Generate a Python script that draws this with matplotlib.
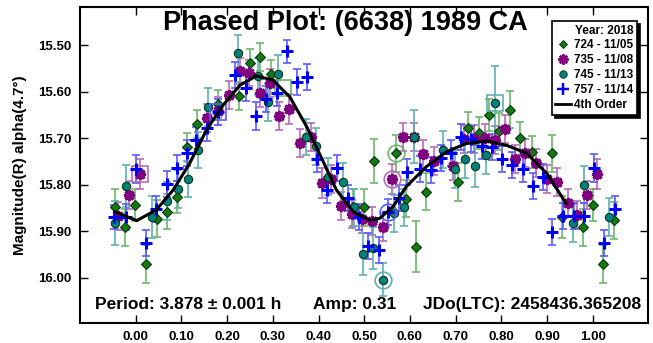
import matplotlib
matplotlib.use("Agg")
import matplotlib.pyplot as plt
from matplotlib.lines import Line2D

plt.rcParams["font.family"] = ["Liberation Sans", "DejaVu Sans"]
plt.rcParams["font.weight"] = "bold"

TITLE = "Phased Plot: (6638) 1989 CA"
YLABEL = "Magnitude(R) alpha(4.7\u00b0)"
LEGEND_TITLE = "Year: 2018"
SERIES_LABELS = ["724 - 11/05", "735 - 11/08", "745 - 11/13", "757 - 11/14"]
FIT_LABEL = "4th Order"
PERIOD_TEXT = "Period: 3.878 \u00b1 0.001 h"
AMP_TEXT = "Amp: 0.31"
JD_TEXT = "JDo(LTC): 2458436.365208"

X_TICKS = [0.0, 0.1, 0.2, 0.3, 0.4, 0.5, 0.6, 0.7, 0.8, 0.9, 1.0]
Y_TICKS = [15.5, 15.6, 15.7, 15.8, 15.9, 16.0]

# 724 - 11/05
green_phase = [-0.046, -0.024, -0.002, 0.022, 0.046, 0.068, 0.090, 0.112, 0.133, 0.179,
               0.225, 0.249, 0.271, 0.295, 0.475, 0.499, 0.521, 0.569, 0.591, 0.613,
               0.635, 0.705, 0.726, 0.751, 0.772, 0.796, 0.818, 0.840, 0.867, 0.912,
               0.932, 0.978, 1.000, 1.022, 1.046]
green_mag = [15.848, 15.891, 15.843, 15.970, 15.873, 15.858, 15.826, 15.719, 15.670, 15.627,
             15.609, 15.539, 15.526, 15.562, 15.848, 15.848, 15.749, 15.732, 15.830, 15.933,
             15.815, 15.794, 15.678, 15.689, 15.650, 15.685, 15.639, 15.700, 15.730, 15.732,
             15.869, 15.891, 15.843, 15.970, 15.876]
green_err = [0.038, 0.040, 0.035, 0.040, 0.040, 0.038, 0.035, 0.030, 0.030, 0.030,
             0.030, 0.030, 0.030, 0.030, 0.040, 0.040, 0.048, 0.040, 0.040, 0.055,
             0.040, 0.040, 0.035, 0.035, 0.035, 0.040, 0.040, 0.035, 0.035, 0.040,
             0.045, 0.040, 0.035, 0.040, 0.040]

# 735 - 11/08
purple_phase = [-0.039, -0.015, 0.009, 0.155, 0.179, 0.204, 0.228, 0.247, 0.271, 0.293,
                0.313, 0.335, 0.359, 0.383, 0.407, 0.427, 0.449, 0.473, 0.495, 0.516,
                0.540, 0.560, 0.584, 0.608, 0.628, 0.652, 0.694, 0.718, 0.740, 0.764,
                0.786, 0.807, 0.829, 0.851, 0.875, 0.899, 0.921, 0.945, 0.965, 0.987,
                1.009]
purple_mag = [15.867, 15.822, 15.777, 15.657, 15.642, 15.607, 15.556, 15.560, 15.603, 15.582,
              15.652, 15.637, 15.710, 15.697, 15.796, 15.788, 15.845, 15.863, 15.873, 15.878,
              15.891, 15.788, 15.697, 15.697, 15.734, 15.749, 15.760, 15.702, 15.702, 15.700,
              15.704, 15.680, 15.745, 15.732, 15.753, 15.788, 15.794, 15.839, 15.865, 15.822,
              15.777]
purple_err = [0.030, 0.030, 0.032, 0.030, 0.030, 0.030, 0.028, 0.028, 0.030, 0.030,
              0.030, 0.032, 0.030, 0.030, 0.032, 0.030, 0.030, 0.030, 0.030, 0.030,
              0.030, 0.032, 0.030, 0.030, 0.030, 0.030, 0.030, 0.030, 0.030, 0.030,
              0.030, 0.030, 0.030, 0.030, 0.030, 0.030, 0.030, 0.030, 0.030, 0.030,
              0.032]

# 745 - 11/13
teal_phase = [-0.046, -0.022, 0.035, 0.068, 0.092, 0.114, 0.136, 0.158, 0.223, 0.267,
              0.289, 0.311, 0.372, 0.394, 0.420, 0.453, 0.477, 0.497, 0.519, 0.540,
              0.565, 0.586, 0.608, 0.672, 0.698, 0.720, 0.742, 0.766, 0.786, 0.956,
              0.980, 1.035]
teal_mag = [15.882, 15.803, 15.869, 15.835, 15.809, 15.788, 15.725, 15.633, 15.517, 15.567,
            15.622, 15.562, 15.697, 15.717, 15.783, 15.794, 15.848, 15.948, 15.936, 16.004,
            15.861, 15.848, 15.697, 15.725, 15.766, 15.745, 15.760, 15.736, 15.624, 15.882,
            15.800, 15.869]
teal_err = [0.048, 0.045, 0.045, 0.040, 0.040, 0.038, 0.038, 0.040, 0.038, 0.040,
            0.040, 0.040, 0.038, 0.040, 0.040, 0.040, 0.040, 0.045, 0.045, 0.035,
            0.040, 0.040, 0.057, 0.040, 0.040, 0.040, 0.045, 0.040, 0.080, 0.040,
            0.040, 0.040]

# 757 - 11/14
blue_phase = [-0.048, -0.022, 0.000, 0.022, 0.044, 0.068, 0.090, 0.112, 0.131, 0.155,
              0.179, 0.217, 0.241, 0.263, 0.284, 0.309, 0.330, 0.352, 0.374, 0.396,
              0.418, 0.440, 0.464, 0.488, 0.508, 0.532, 0.551, 0.575, 0.593, 0.621,
              0.646, 0.667, 0.689, 0.711, 0.733, 0.757, 0.779, 0.801, 0.823, 0.847,
              0.869, 0.891, 0.912, 0.934, 0.958, 0.980, 1.002, 1.024, 1.048]
blue_mag = [15.869, 15.869, 15.766, 15.925, 15.852, 15.798, 15.764, 15.732, 15.704, 15.678,
            15.644, 15.564, 15.592, 15.652, 15.616, 15.603, 15.513, 15.579, 15.569, 15.745,
            15.811, 15.764, 15.828, 15.869, 15.931, 15.940, 15.858, 15.828, 15.773, 15.766,
            15.768, 15.742, 15.732, 15.697, 15.702, 15.717, 15.719, 15.745, 15.758, 15.766,
            15.803, 15.783, 15.901, 15.867, 15.867, 15.867, 15.764, 15.925, 15.852]
blue_err = [0.026, 0.028, 0.030, 0.028, 0.028, 0.028, 0.028, 0.028, 0.028, 0.028,
            0.028, 0.028, 0.028, 0.030, 0.028, 0.028, 0.025, 0.028, 0.028, 0.028,
            0.028, 0.028, 0.028, 0.028, 0.028, 0.028, 0.028, 0.028, 0.028, 0.028,
            0.028, 0.028, 0.028, 0.028, 0.028, 0.028, 0.028, 0.028, 0.028, 0.028,
            0.028, 0.028, 0.028, 0.028, 0.028, 0.028, 0.030, 0.028, 0.028]

# highlighted first/last points of each night
square_phase = [0.322, 0.009, 0.786, 0.179]
square_mag = [15.592, 15.777, 15.624, 15.644]
circle_phase = [0.569, 0.560, 0.540, 0.551]
circle_mag = [15.732, 15.788, 16.004, 15.858]

# 4th order Fourier fit
fit_phase = [-0.046, 0.002, 0.045, 0.082, 0.118, 0.155, 0.191, 0.228, 0.264, 0.300,
             0.337, 0.374, 0.403, 0.439, 0.476, 0.512, 0.534, 0.563, 0.592, 0.636,
             0.680, 0.724, 0.767, 0.811, 0.855, 0.899, 0.942]
fit_mag = [15.858, 15.877, 15.854, 15.811, 15.754, 15.682, 15.629, 15.586, 15.566, 15.575,
           15.611, 15.675, 15.735, 15.811, 15.858, 15.876, 15.872, 15.847, 15.804, 15.761,
           15.729, 15.711, 15.706, 15.715, 15.732, 15.775, 15.840]

COLORS = ["#137a13", "#800080", "#008080", "#0000ff"]
BAR_COLORS = ["#6cb86c", "#b86cb8", "#5fb0b0", "#5a5aff"]
MARKERS = ["D", (8, 2, 0), "o", "+"]
SIZES = [5, 8, 6, 9]
EDGES = [0.8, 2.2, 0.8, 2.2]


def main():
    fig = plt.figure(figsize=(6.53, 3.43), dpi=100)
    ax = fig.add_axes([80 / 653, 20 / 343, 568 / 653, 316 / 343])

    series = [
        (green_phase, green_mag, green_err),
        (purple_phase, purple_mag, purple_err),
        (teal_phase, teal_mag, teal_err),
        (blue_phase, blue_mag, blue_err),
    ]

    for (ph, mag, err), bc in zip(series, BAR_COLORS):
        ax.errorbar(ph, mag, yerr=err, fmt="none", ecolor=bc, elinewidth=1.2,
                    capsize=3, capthick=1.2, zorder=2)

    for i, (ph, mag, err) in enumerate(series):
        edge = "#0a3a0a" if MARKERS[i] in ("D", "o") else COLORS[i]
        ax.plot(ph, mag, linestyle="none", marker=MARKERS[i], markersize=SIZES[i],
                color=COLORS[i], markeredgecolor=edge, markeredgewidth=EDGES[i], zorder=3)
        ax.plot(square_phase[i], square_mag[i], linestyle="none", marker="s",
                markersize=11, markerfacecolor="none", markeredgecolor=BAR_COLORS[i],
                markeredgewidth=1.2, zorder=3)
        ax.plot(circle_phase[i], circle_mag[i], linestyle="none", marker="o",
                markersize=12, markerfacecolor="none", markeredgecolor=BAR_COLORS[i],
                markeredgewidth=1.2, zorder=3)

    ax.plot(fit_phase, fit_mag, color="black", linewidth=2.2, zorder=4)

    ax.set_xlim(-0.122, 1.121)
    ax.set_ylim(16.097, 15.418)
    ax.set_xticks(X_TICKS)
    ax.set_yticks(Y_TICKS)
    ax.set_xticklabels([f"{t:.2f}" for t in X_TICKS])
    ax.set_yticklabels([f"{t:.2f}" for t in Y_TICKS])
    ax.tick_params(direction="in", top=True, right=True, length=6, width=1,
                   labelsize=9.5, pad=6)
    for lab in ax.get_xticklabels() + ax.get_yticklabels():
        lab.set_fontweight("bold")
    for sp in ax.spines.values():
        sp.set_linewidth(1.5)

    ax.set_ylabel(YLABEL, fontsize=11, fontweight="bold", labelpad=8)

    ax.text(0.467, 0.949, TITLE, transform=ax.transAxes, ha="center", va="center",
            fontsize=19.5, fontweight="bold")
    ax.text(0.026, 0.057, PERIOD_TEXT, transform=ax.transAxes, ha="left", va="center",
            fontsize=12.5, fontweight="bold")
    ax.text(0.41, 0.057, AMP_TEXT, transform=ax.transAxes, ha="left", va="center",
            fontsize=12.5, fontweight="bold")
    ax.text(0.988, 0.057, JD_TEXT, transform=ax.transAxes, ha="right", va="center",
            fontsize=12.5, fontweight="bold")

    handles = []
    for i in range(4):
        edge = "#0a3a0a" if MARKERS[i] in ("D", "o") else COLORS[i]
        handles.append(Line2D([], [], linestyle="none", marker=MARKERS[i],
                              markersize=SIZES[i] * 0.9, color=COLORS[i],
                              markeredgecolor=edge, markeredgewidth=EDGES[i] * 0.8))
    handles.append(Line2D([], [], color="black", linewidth=2))
    leg = ax.legend(handles, SERIES_LABELS + [FIT_LABEL], title=LEGEND_TITLE,
                    loc="upper right", bbox_to_anchor=(0.9806, 0.9557), borderaxespad=0,
                    prop={"weight": "bold", "size": 8.5},
                    title_fontproperties={"weight": "bold", "size": 8.5},
                    alignment="right", frameon=True, fancybox=False,
                    shadow={"color": "black", "alpha": 1}, handlelength=1.3,
                    handletextpad=0.3, labelspacing=0.25, borderpad=0.3)
    leg.get_frame().set_edgecolor("black")
    leg.get_frame().set_linewidth(1.2)
    leg.set_zorder(5)

    fig.savefig("out.png", dpi=100)


if __name__ == "__main__":
    main()
